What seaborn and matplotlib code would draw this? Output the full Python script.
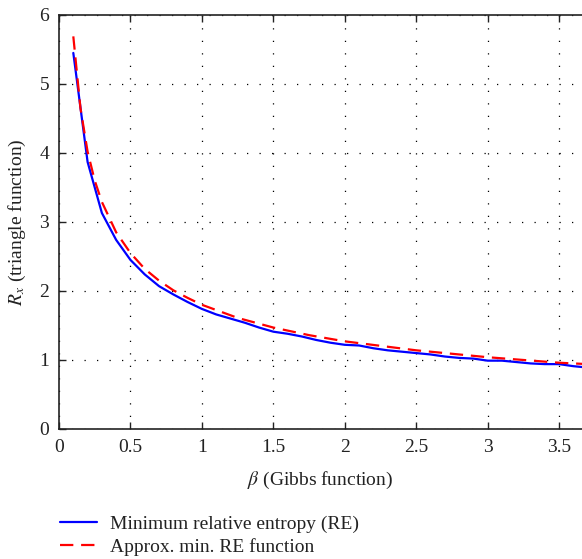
"""
Minimum relative entropy vs approximation (triangle function vs Gibbs function)
"""
import pandas as pd
import numpy as np
import matplotlib
matplotlib.use('Agg')
import matplotlib.pyplot as plt
import seaborn as sns

sns.set_style("ticks")
plt.rcParams['font.family'] = ['Liberation Serif', 'DejaVu Serif']
plt.rcParams['mathtext.fontset'] = 'stix'

# ========== 数据 ==========
beta_re = [0.1, 0.2, 0.3, 0.4, 0.5, 0.6, 0.7, 0.8, 0.9, 1.0, 1.1, 1.2, 1.3, 1.4,
           1.5, 1.6, 1.7, 1.8, 1.9, 2.0, 2.1, 2.2, 2.3, 2.4, 2.5, 2.6, 2.7, 2.8,
           2.9, 3.0, 3.1, 3.2, 3.3, 3.4, 3.5, 3.6, 3.7]
rx_re = [5.45, 3.87, 3.13, 2.74, 2.45, 2.24, 2.07, 1.95, 1.84, 1.74, 1.66, 1.60,
         1.54, 1.47, 1.41, 1.38, 1.34, 1.29, 1.25, 1.22, 1.21, 1.17, 1.14, 1.12,
         1.10, 1.08, 1.05, 1.03, 1.02, 0.99, 0.99, 0.97, 0.95, 0.94, 0.94, 0.91, 0.89]

beta_approx = [0.1, 0.15, 0.2, 0.25, 0.3, 0.4, 0.5, 0.6, 0.7, 0.8, 0.9, 1.0,
               1.25, 1.5, 1.75, 2.0, 2.5, 3.0, 3.5, 3.7]
rx_approx = [5.69, 4.65, 4.02, 3.60, 3.29, 2.85, 2.55, 2.32, 2.15, 2.01, 1.90, 1.80,
             1.61, 1.47, 1.36, 1.27, 1.14, 1.04, 0.96, 0.94]

x_ticks = [0, 0.5, 1, 1.5, 2, 2.5, 3, 3.5]
x_ticklabels = ['0', '0.5', '1', '1.5', '2', '2.5', '3', '3.5']
y_ticks = [0, 1, 2, 3, 4, 5, 6]

df = pd.concat([
    pd.DataFrame({'beta': beta_re, 'rx': rx_re, 'curve': 'Minimum relative entropy (RE)'}),
    pd.DataFrame({'beta': beta_approx, 'rx': rx_approx, 'curve': 'Approx. min. RE function'}),
])

# ========== 绘图 ==========
fig = plt.figure(figsize=(5.82, 5.59), dpi=100)
ax = fig.add_axes([0.1014, 0.2326, 0.8986, 0.7406])

sns.lineplot(data=df, x='beta', y='rx', hue='curve', style='curve',
             palette={'Minimum relative entropy (RE)': '#0000ff',
                      'Approx. min. RE function': '#ff0000'},
             dashes={'Minimum relative entropy (RE)': '',
                     'Approx. min. RE function': (6, 3.5)},
             linewidth=1.6, sort=False, estimator=None, ax=ax, legend=True)

ax.set_xlim(0, 3.66)
ax.set_ylim(0, 6)
ax.set_xticks(x_ticks)
ax.set_xticklabels(x_ticklabels)
ax.set_yticks(y_ticks)
ax.grid(True, color='black', linestyle=(0, (1, 9)), linewidth=0.9)
ax.tick_params(direction='in', length=5, top=True, right=False, pad=7,
               labelsize=14, colors='#222222', width=1)
for side in ['left', 'bottom', 'top']:
    ax.spines[side].set_color('#222222')
    ax.spines[side].set_linewidth(1.2)
ax.spines['right'].set_visible(False)

ax.set_xlabel(r'$\beta$ (Gibbs function)', fontsize=14, color='#222222', labelpad=10)
ax.set_ylabel(r'$R_x$ (triangle function)', fontsize=14, color='#222222', labelpad=8)

leg = ax.legend(loc='upper left', bbox_to_anchor=(-0.013, -0.19), frameon=False,
                fontsize=14, handlelength=1.9, handletextpad=0.65,
                labelspacing=0.25, borderaxespad=0)
for t in leg.get_texts():
    t.set_color('#222222')

fig.savefig('out.png', dpi=100)
